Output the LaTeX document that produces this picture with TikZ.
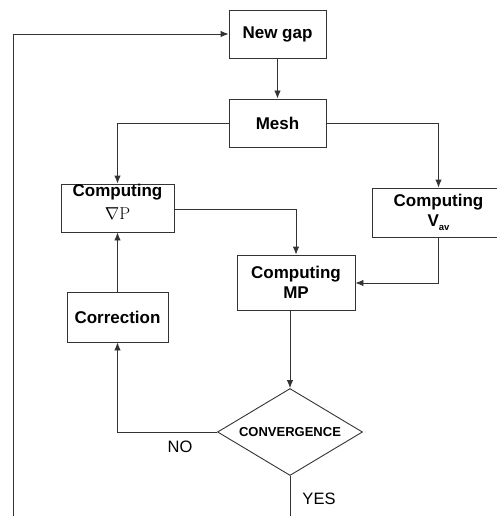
\documentclass[tikz,border=0pt]{standalone}
\usepackage[no-math]{fontspec}
\setmainfont{Liberation Sans}
\usetikzlibrary{arrows.meta,shapes.geometric}
\definecolor{linec}{HTML}{333333}
\tikzset{
  x=1pt, y=-1pt,
  box/.style={draw=linec, line width=0.9pt, rectangle, inner sep=0pt, align=center,
    font=\fontsize{17}{20}\selectfont\bfseries},
  lbl/.style={inner sep=0pt, align=center, font=\fontsize{17}{20}\selectfont\bfseries},
  arr/.style={draw=linec, line width=0.9pt, -{Latex[length=8pt,width=6.5pt]}},
  ln/.style={draw=linec, line width=0.9pt},
  dec/.style={draw=linec, line width=0.9pt, diamond, aspect=1.65, inner sep=0pt,
    minimum width=145pt, minimum height=87pt,
    font=\fontsize{13}{14}\selectfont\bfseries},
  side/.style={inner sep=0pt, font=\fontsize{16.5}{18}\selectfont}
}
\begin{document}
\begin{tikzpicture}
\useasboundingbox (0,0) rectangle (497,516);
\clip (0,0) rectangle (497,516);
\node[box, minimum width=97pt, minimum height=48pt] (newgap) at (277.5,34) {New gap};
\node[box, minimum width=97pt, minimum height=48pt] (mesh) at (277.5,123) {Mesh};
\node[box, minimum width=113pt, minimum height=48pt] (grad) at (117.5,208) {};
\node[lbl, anchor=base] (gradtxt) at (117.5,196) {Computing};
\node[lbl, anchor=base, font=\fontsize{18}{20}\selectfont] (gradsym) at (117.5,219) {$\nabla\mathrm{P}$};
\node[box, minimum width=133pt, minimum height=49pt] (vav) at (438.5,212.5)
  {Computing\\V{\fontsize{9.5}{9}\selectfont\raisebox{-3.5pt}{av}}};
\node[box, minimum width=118pt, minimum height=55pt] (mp) at (296,282.5) {Computing\\MP};
\node[box, minimum width=101pt, minimum height=50pt] (corr) at (117.5,317) {Correction};
\node[dec] (conv) at (290,432) {CONVERGENCE};
\node[side] (no) at (180,447) {NO};
\node[side] (yes) at (319,499) {YES};
\coordinate (loopbot) at (13,520);
\coordinate (yesend) at (290,520);

\draw[arr] (loopbot) |- (newgap.west);
\draw[arr] (newgap.south) -- (mesh.north);
\draw[arr] (mesh.west) -| (grad.north);
\draw[arr] (mesh.east) -| (vav.north);
\draw[arr] (grad.east |- 0,209) -| (mp.north);
\draw[arr] (vav.south) |- (mp.east |- 0,283);
\draw[arr] (corr.north) -- (grad.south);
\draw[arr] (mp.south -| conv.north) -- (conv.north);
\draw[arr] (conv.west) -| (corr.south);
\draw[ln] (conv.south) -- (yesend);
\end{tikzpicture}
\end{document}
